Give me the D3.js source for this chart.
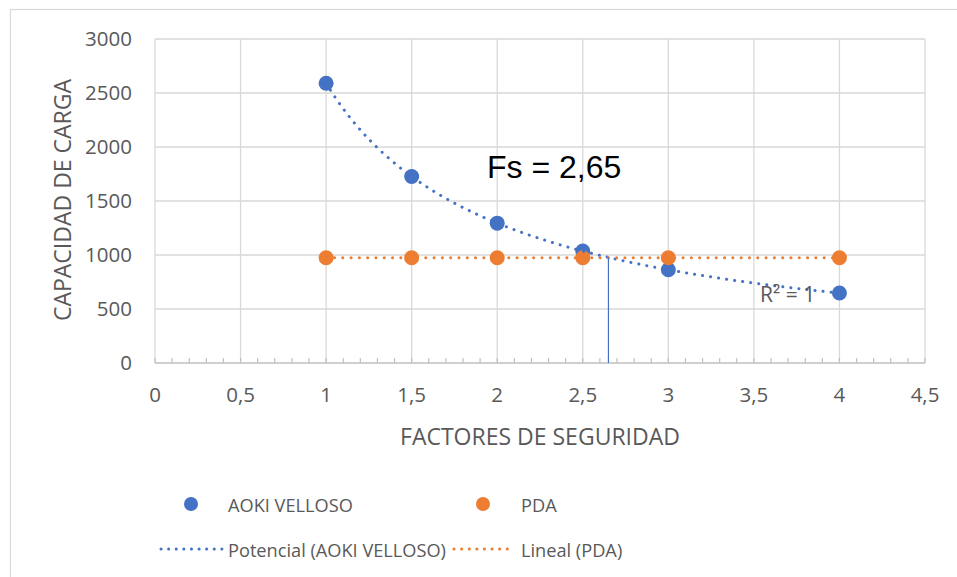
<!DOCTYPE html>
<html>
<head>
<meta charset="utf-8">
<script src="https://cdn.jsdelivr.net/npm/d3@7"></script>
<style>
  html, body { margin: 0; padding: 0; background: #fff; }
  svg { display: block; }
  text { font-family: "Open Sans", sans-serif; fill: #595959; }
</style>
</head>
<body>
<svg id="chart" width="957" height="577"></svg>
<script>
// Safety factors (x) and bearing capacity (y)
const factors = [1, 1.5, 2, 2.5, 3, 4];
const aokiVelloso = [2590, 1727, 1295, 1036, 863, 648];
const pda = [975, 975, 975, 975, 975, 975];
const xTicks = [0, 0.5, 1, 1.5, 2, 2.5, 3, 3.5, 4, 4.5];
const yTicks = [0, 500, 1000, 1500, 2000, 2500, 3000];
const fsValue = 2.65;
const fsLabel = "Fs = 2,65";
const r2Label = "R² = 1";
const xTitle = "FACTORES DE SEGURIDAD";
const yTitle = "CAPACIDAD DE CARGA";
const seriesNames = ["AOKI VELLOSO", "PDA"];
const trendNames = ["Potencial (AOKI VELLOSO)", "Lineal (PDA)"];

const blue = "#4472C4", orange = "#ED7D31";
const fmt = v => String(v).replace(".", ",");

const svg = d3.select("#chart");

// chart frame
svg.append("rect").attr("x", 10.5).attr("y", 9.5).attr("width", 1200).attr("height", 1200)
  .attr("fill", "none").attr("stroke", "#d9d9d9").attr("stroke-width", 1.2);

const x = d3.scaleLinear().domain([0, 4.5]).range([155, 925]);
const y = d3.scaleLinear().domain([0, 3000]).range([363, 39]);

// gridlines
svg.append("g").selectAll("line").data(yTicks.filter(d => d > 0)).join("line")
  .attr("x1", x(0)).attr("x2", x(4.5))
  .attr("y1", d => y(d)).attr("y2", d => y(d))
  .attr("stroke", "#d9d9d9").attr("stroke-width", 1.3);
svg.append("g").selectAll("line").data(xTicks).join("line")
  .attr("x1", d => x(d)).attr("x2", d => x(d))
  .attr("y1", y(0)).attr("y2", y(3000))
  .attr("stroke", "#d9d9d9").attr("stroke-width", 1.3);

// x axis line with inside minor ticks
const minor = d3.range(0, 46).map(i => i / 10);
svg.append("g").selectAll("line").data(minor).join("line")
  .attr("x1", d => x(d)).attr("x2", d => x(d))
  .attr("y1", y(0)).attr("y2", y(0) - 5)
  .attr("stroke", "#bfbfbf").attr("stroke-width", 1.2);
svg.append("line").attr("x1", x(0)).attr("x2", x(4.5)).attr("y1", y(0)).attr("y2", y(0))
  .attr("stroke", "#bfbfbf").attr("stroke-width", 1.5);

// tick labels
svg.append("g").selectAll("text").data(xTicks).join("text")
  .attr("x", d => x(d)).attr("y", 402).attr("text-anchor", "middle")
  .attr("font-size", 20.5).text(d => fmt(d));
svg.append("g").selectAll("text").data(yTicks).join("text")
  .attr("x", 132).attr("y", d => y(d) + 7.3).attr("text-anchor", "end")
  .attr("font-size", 20.5).text(d => d);

// axis titles
svg.append("text").attr("x", 540).attr("y", 445).attr("text-anchor", "middle")
  .attr("font-size", 23).text(xTitle);
svg.append("text").attr("transform", `translate(${71},${200}) rotate(-90)`)
  .attr("text-anchor", "middle").attr("font-size", 23).text(yTitle);

// markers
const pts = (ys) => factors.map((f, i) => [f, ys[i]]);
svg.append("g").selectAll("circle").data(pts(aokiVelloso)).join("circle")
  .attr("cx", d => x(d[0])).attr("cy", d => y(d[1])).attr("r", 7.5).attr("fill", blue);
svg.append("g").selectAll("circle").data(pts(pda)).join("circle")
  .attr("cx", d => x(d[0])).attr("cy", d => y(d[1])).attr("r", 7.5).attr("fill", orange);

// trendlines fitted from the series
function linFit(xs, ys) {
  const n = xs.length, mx = d3.mean(xs), my = d3.mean(ys);
  let sxy = 0, sxx = 0;
  for (let i = 0; i < n; i++) { sxy += (xs[i] - mx) * (ys[i] - my); sxx += (xs[i] - mx) ** 2; }
  const b = sxy / sxx; return { b, a: my - b * mx };
}
const pw = linFit(factors.map(Math.log), aokiVelloso.map(Math.log));
const powerFn = v => Math.exp(pw.a) * Math.pow(v, pw.b);
const ln = linFit(factors, pda);
const linFn = v => ln.a + ln.b * v;

const x0 = d3.min(factors), x1 = d3.max(factors);
const samples = d3.range(0, 201).map(i => x0 + (x1 - x0) * i / 200);
const line = d3.line().x(d => x(d[0])).y(d => y(d[1]));

svg.append("path").datum(samples.map(v => [v, powerFn(v)])).attr("d", line)
  .attr("fill", "none").attr("stroke", blue).attr("stroke-width", 3)
  .attr("stroke-linecap", "round").attr("stroke-dasharray", "0.1 8");
svg.append("path").datum([[x0, linFn(x0)], [x1, linFn(x1)]]).attr("d", line)
  .attr("fill", "none").attr("stroke", orange).attr("stroke-width", 3)
  .attr("stroke-linecap", "round").attr("stroke-dasharray", "0.1 8.2");

// safety factor marker line
svg.append("line").attr("x1", x(fsValue)).attr("x2", x(fsValue))
  .attr("y1", y(0)).attr("y2", y(linFn(fsValue)))
  .attr("stroke", blue).attr("stroke-width", 1.2);

svg.append("text").attr("x", 487).attr("y", 178)
  .style("font-family", "'Liberation Sans', Arial, sans-serif").style("fill", "#000")
  .attr("font-size", 32).text(fsLabel);

svg.append("text").attr("x", 760).attr("y", 302).attr("font-size", 21).text(r2Label);

// legend
const lg = svg.append("g");
lg.append("circle").attr("cx", 191).attr("cy", 504).attr("r", 7).attr("fill", blue);
lg.append("text").attr("x", 228).attr("y", 512).attr("font-size", 18.2).text(seriesNames[0]);
lg.append("circle").attr("cx", 483).attr("cy", 504).attr("r", 7).attr("fill", orange);
lg.append("text").attr("x", 521).attr("y", 512).attr("font-size", 18.2).text(seriesNames[1]);
lg.append("line").attr("x1", 161).attr("x2", 222).attr("y1", 549).attr("y2", 549)
  .attr("stroke", blue).attr("stroke-width", 3).attr("stroke-linecap", "round").attr("stroke-dasharray", "0.1 7.5");
lg.append("text").attr("x", 228).attr("y", 557).attr("font-size", 18.2).text(trendNames[0]);
lg.append("line").attr("x1", 454).attr("x2", 514).attr("y1", 549).attr("y2", 549)
  .attr("stroke", orange).attr("stroke-width", 3).attr("stroke-linecap", "round").attr("stroke-dasharray", "0.1 7.5");
lg.append("text").attr("x", 521).attr("y", 557).attr("font-size", 18.2).text(trendNames[1]);
</script>
</body>
</html>
